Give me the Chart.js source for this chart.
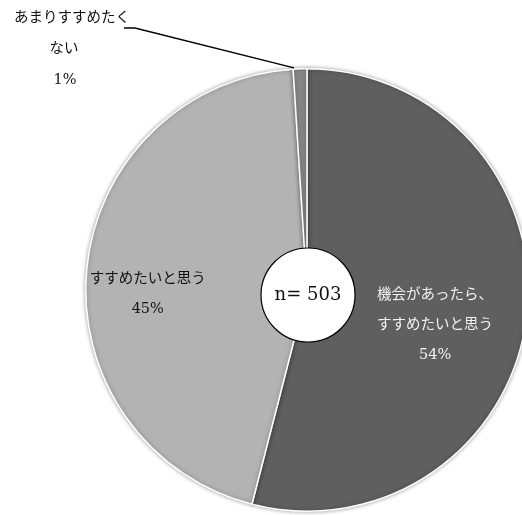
<!DOCTYPE html>
<html>
<head>
<meta charset="utf-8">
<script src="https://cdn.jsdelivr.net/npm/chart.js@4.4.0/dist/chart.umd.min.js"></script>
<style>
  html, body { margin: 0; padding: 0; background: #fff; overflow: hidden; }
  #wrap { position: absolute; left: 0; top: 0; width: 614px; height: 515px; }
</style>
</head>
<body>
<div id="wrap"><canvas id="pie" width="614" height="515"></canvas></div>
<script>
// データ (%)
var labels = [['機会があったら、', 'すすめたいと思う'], ['すすめたいと思う'], ['あまりすすめたく', 'ない']];
var values = [54, 45, 1];
var colors = ['#5f5f5f', '#b3b3b3', '#868686'];
var sampleSize = 503;

var FONT = '"DejaVu Serif", "Noto Sans CJK JP", serif';

// ラベルと中央の円
var pieLabels = {
    id: 'pieLabels',
    afterDatasetsDraw: function(chart) {
        var ctx = chart.ctx;
        var arcs = chart.getDatasetMeta(0).data;
        ctx.save();
        ctx.textAlign = 'center';
        ctx.textBaseline = 'middle';
        ctx.font = '14.5px ' + FONT;

        arcs.forEach(function(arc, i) {
            var mid = (arc.startAngle + arc.endAngle) / 2;
            var lines = labels[i].concat([values[i] + '%']);
            if (i === 2) {
                // 外側ラベル + 引き出し線
                var ex = arc.x + Math.cos(mid) * arc.outerRadius - 6;
                var ey = arc.y + Math.sin(mid) * arc.outerRadius - 1;
                ctx.strokeStyle = '#000';
                ctx.lineWidth = 1.5;
                ctx.beginPath();
                ctx.moveTo(ex, ey);
                ctx.lineTo(135, 28);
                ctx.lineTo(124, 28);
                ctx.stroke();
                ctx.fillStyle = '#111';
                ctx.textAlign = 'left';
                ctx.fillText(lines[0], 14, 18);
                ctx.textAlign = 'center';
                ctx.fillText(lines[1], 64, 49);
                ctx.fillText(lines[2], 65, 80);
                return;
            }
            var frac = i === 0 ? 0.6 : 0.72;
            var off = i === 0 ? 0.14 : -0.12;
            var cx = arc.x + Math.cos(mid + off) * arc.outerRadius * frac;
            var cy = arc.y + Math.sin(mid + off) * arc.outerRadius * frac;
            var lh = 30;
            ctx.fillStyle = i === 0 ? '#f2f2f2' : '#111';
            lines.forEach(function(t, j) {
                ctx.fillText(t, cx, cy + (j - (lines.length - 1) / 2) * lh);
            });
        });

        // n= 503
        var a = arcs[0];
        var ccx = a.x + 1, ccy = a.y + 5;
        ctx.beginPath();
        ctx.arc(ccx, ccy, 47, 0, Math.PI * 2);
        ctx.fillStyle = '#fff';
        ctx.fill();
        ctx.strokeStyle = '#000';
        ctx.lineWidth = 1.2;
        ctx.stroke();
        ctx.fillStyle = '#111';
        ctx.font = '18px ' + FONT;
        ctx.fillText('n= ' + sampleSize, ccx, ccy);
        ctx.restore();
    }
};

// 影
var pieShadow = {
    id: 'pieShadow',
    beforeDatasetsDraw: function(chart) {
        chart.ctx.save();
        chart.ctx.shadowColor = 'rgba(0,0,0,0.35)';
        chart.ctx.shadowBlur = 4;
    },
    afterDatasetsDraw: function(chart) {
        chart.ctx.restore();
    }
};

document.addEventListener('DOMContentLoaded', function() {
    var ctx = document.getElementById('pie').getContext('2d');
    new Chart(ctx, {
        type: 'pie',
        data: {
            labels: labels,
            datasets: [{
                data: values,
                backgroundColor: colors,
                borderColor: '#ffffff',
                borderWidth: 1.5
            }]
        },
        options: {
            responsive: false,
            animation: false,
            layout: { padding: { left: 85, right: 85, top: 67, bottom: 2 } },
            plugins: {
                legend: { display: false },
                tooltip: { enabled: false }
            }
        },
        plugins: [pieShadow, pieLabels]
    });
});
</script>
</body>
</html>
